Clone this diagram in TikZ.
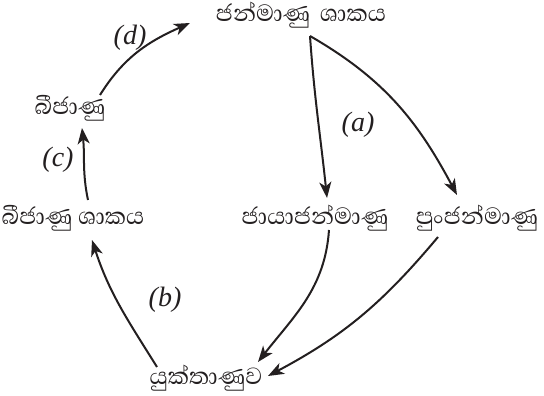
\documentclass[tikz,border=0pt]{standalone}
\usepackage{fontspec}
\setmainfont{Liberation Serif}
\newfontfamily\sinhalafont[Script=Sinhala]{Abhaya Libre}
\usepackage{xcolor}
\usepackage{tikz}
\usetikzlibrary{arrows.meta}
\definecolor{inkblack}{HTML}{231F20}
\tikzset{
  stagenode/.style={inner sep=0pt,font=\sinhalafont\fontsize{30}{33}\selectfont,text=inkblack},
  cyclearrow/.style={-{Stealth[length=16pt,width=12pt,inset=4.5pt]},draw=inkblack,line width=2pt},
  steplabel/.style={inner sep=0pt,font=\itshape\fontsize{28}{30}\selectfont,text=inkblack},
}
\begin{document}
\begin{tikzpicture}[x=1pt,y=1pt]
    \useasboundingbox (0,0) rectangle (544,396);
    \node[stagenode] (gameto) at (301,381) {ජන්මාණු\hspace{4pt} ශාකය};
    \node[stagenode] (female) at (315,178) {ජායාජන්මාණු};
    \node[stagenode] (male) at (477,178) {පුංජන්මාණු};
    \node[stagenode] (zygote) at (206,18) {යුක්තාණුව};
    \node[stagenode] (sporo) at (73,178) {බීජාණු ශාකය};
    \node[stagenode] (spore) at (70,288) {බීජාණු};
    \node[steplabel] (la) at (358,271) {(a)};
    \node[steplabel] (lb) at (165,96) {(b)};
    \node[steplabel] (lc) at (58,236) {(c)};
    \node[steplabel] (ld) at (130,358) {(d)};
    \draw[cyclearrow] ([shift={(9,-21)}]gameto.center) to[out=-86,in=96] ([shift={(12,20)}]female.center);
    \draw[cyclearrow] ([shift={(9,-21)}]gameto.center) to[out=-30,in=118] ([shift={(-20,23)}]male.center);
    \draw[cyclearrow] ([shift={(14,-12)}]female.center) to[out=-94,in=52] ([shift={(52,16)}]zygote.center);
    \draw[cyclearrow] ([shift={(-39,-19)}]male.center) to[out=-130,in=28] ([shift={(62,2)}]zygote.center);
    \draw[cyclearrow] ([shift={(-49,11)}]zygote.center) to[out=122,in=-72] ([shift={(19,-22)}]sporo.center);
    \draw[cyclearrow] ([shift={(15,18)}]sporo.center) to[out=102,in=-84] ([shift={(12,-20)}]spore.center);
    \draw[cyclearrow] ([shift={(30,13)}]spore.center) to[out=58,in=204] ([shift={(-111,-8)}]gameto.center);
\end{tikzpicture}
\end{document}
